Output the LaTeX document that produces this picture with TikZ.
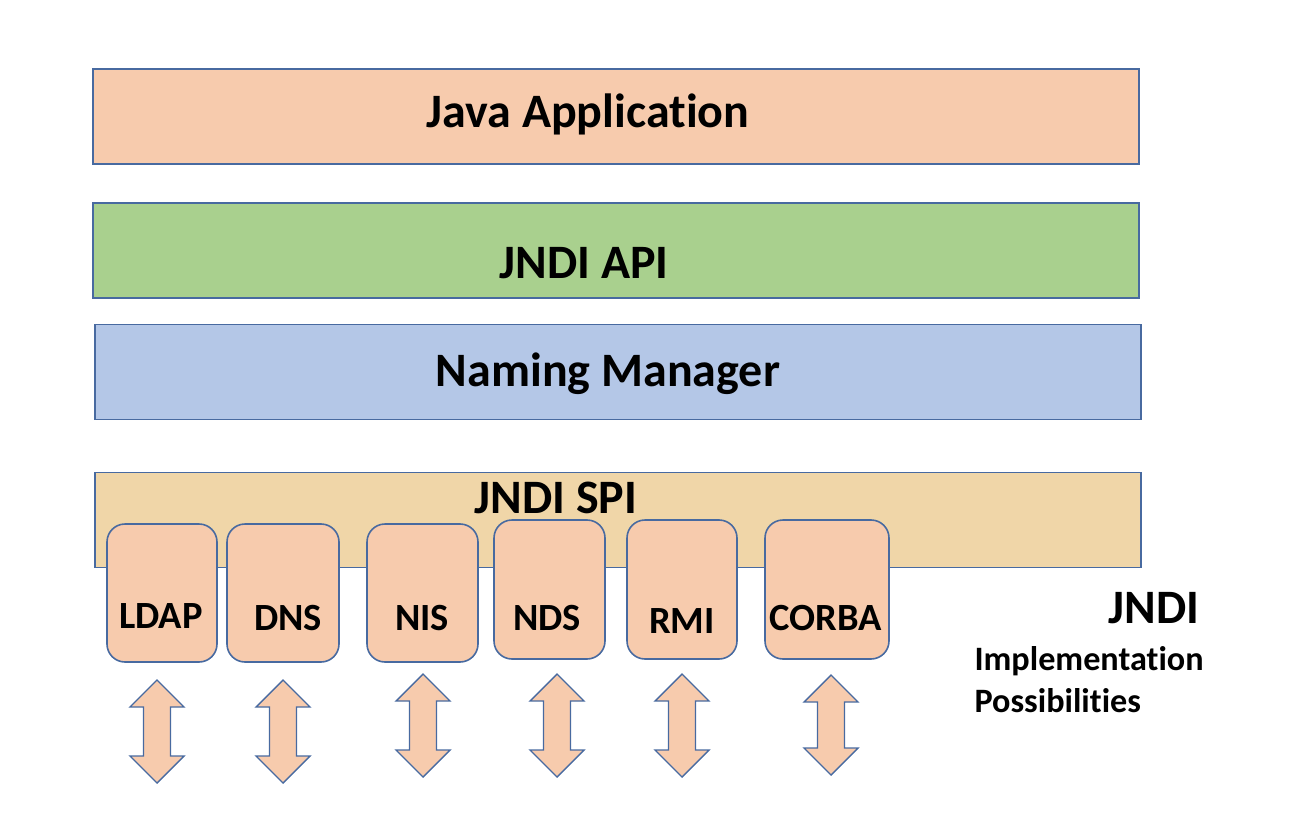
\documentclass[tikz,border=0pt]{standalone}
\usepackage{fontspec}
\setmainfont{Carlito}[Ligatures=NoCommon]
\usepackage{xcolor}
\usetikzlibrary{calc,positioning}

\definecolor{peach}{RGB}{247,203,173}
\definecolor{apigreen}{RGB}{169,208,142}
\definecolor{mgrblue}{RGB}{180,199,231}
\definecolor{spitan}{RGB}{240,214,168}
\definecolor{edge}{RGB}{72,106,160}

\tikzset{
  layer/.style={draw=edge,line width=1.6pt,minimum width=1046pt,minimum height=95pt,inner sep=0pt},
  impl/.style={draw=edge,line width=1.6pt,fill=peach,rounded corners=18pt,minimum height=138pt,inner sep=0pt},
  bigtxt/.style={font=\fontsize{48}{52}\selectfont\bfseries},
  smalltxt/.style={font=\fontsize{38.5}{42}\selectfont\bfseries},
  notetxt/.style={font=\fontsize{34.2}{38}\selectfont\bfseries},
  twoway/.style={draw=edge,line width=1.4pt,fill=peach,line join=miter}
}

\begin{document}
\begin{tikzpicture}[x=1pt,y=-1pt]
  \useasboundingbox (0,0) rectangle (1292,834);
  % layers
  \node[layer,fill=peach] (app) at (616,116.5) {};
  \node[bigtxt] (apptxt) at (588,114) {Java Application};
  \node[layer,fill=apigreen] (api) at (616,250.5) {};
  \node[bigtxt] (apitxt) at (584,263.5) {JNDI API};
  \node[layer,fill=mgrblue] (mgr) at (618,372) {};
  \node[bigtxt] (mgrtxt) at (608,374) {Naming Manager};
  \node[layer,fill=spitan] (spi) at (618,520) {};
  \node[bigtxt] (spitxt) at (556,498) {JNDI SPI};
  % implementations
  \node[impl,minimum width=110pt] (ldap) at (162,593) {};
  \node[impl,minimum width=112pt] (dns) at (283,593) {};
  \node[impl,minimum width=111pt] (nis) at (422.5,593) {};
  \node[impl,minimum width=111pt,minimum height=139pt] (nds) at (549.5,589.5) {};
  \node[impl,minimum width=110pt,minimum height=139pt] (rmi) at (682,589.5) {};
  \node[impl,minimum width=124pt,minimum height=139pt] (corba) at (827,589.5) {};
  \node[smalltxt] (ldaptxt) at (161,616) {LDAP};
  \node[smalltxt] (dnstxt) at (288,618) {DNS};
  \node[smalltxt] (nistxt) at (422,618) {NIS};
  \node[smalltxt] (ndstxt) at (547,618) {NDS};
  \node[smalltxt] (rmitxt) at (682,621) {RMI};
  \node[smalltxt] (corbatxt) at (826,618) {CORBA};
  % two-way arrows below
  \foreach \cx/\ty/\by in {157/680/783,283/680/783,423/674/777,557/674/777,682/674/777,831/675/775}
    \draw[twoway] (\cx,\ty) -- (\cx+27,\ty+27) -- (\cx+13.5,\ty+27) -- (\cx+13.5,\by-27)
      -- (\cx+27,\by-27) -- (\cx,\by) -- (\cx-27,\by-27) -- (\cx-13.5,\by-27)
      -- (\cx-13.5,\ty+27) -- (\cx-27,\ty+27) -- cycle;
  % side note
  \node[bigtxt,anchor=east] (jndi) at (1203,608) {JNDI};
  \node[notetxt,anchor=west] (impltxt) at (971,661) {Implementation};
  \node[notetxt,anchor=west] (posstxt) at (971,701) {Possibilities};
\end{tikzpicture}
\end{document}
